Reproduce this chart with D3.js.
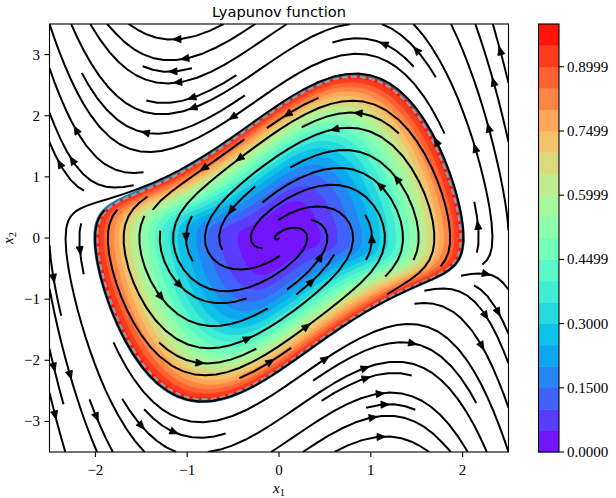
<!DOCTYPE html>
<html>
<head>
<meta charset="utf-8">
<script src="https://cdn.jsdelivr.net/npm/d3@7"></script>
<style>
  body { margin: 0; background: #fff; }
  svg { display: block; }
  text { font-family: "Liberation Serif", "DejaVu Serif", serif; fill: #000; }
</style>
</head>
<body>
<svg width="616" height="498"></svg>
<script>
// ---- chart values ----
var xDomain = [-2.5, 2.5];
var yDomain = [-3.5, 3.5];
var xTicks = [-2, -1, 0, 1, 2];
var yTicks = [-3, -2, -1, 0, 1, 2, 3];
// contour levels (21 edges -> 20 bands)
var levels = [0, 0.05, 0.1, 0.15, 0.2, 0.25, 0.3, 0.35, 0.4, 0.45, 0.5,
              0.55, 0.6, 0.65, 0.7, 0.75, 0.8, 0.85, 0.9, 0.95, 0.9999];
var cbarTickIdx = [0, 3, 6, 9, 12, 15, 18];
var cbarTickLabels = ["0.0000", "0.1500", "0.3000", "0.4499", "0.5999", "0.7499", "0.8999"];
// reversed Van der Pol: x1' = -x2, x2' = x1 - mu (1 - x1^2) x2
var mu = 1.0;

function field(x1, x2) {
  return [-x2, x1 - mu * (1 - x1 * x1) * x2];
}

var svg = d3.select("svg");
var x = d3.scaleLinear().domain(xDomain).range([49.5, 508.5]);
var y = d3.scaleLinear().domain(yDomain).range([452, 24]);

// matplotlib "rainbow"
function rainbow(t) {
  var r = Math.min(1, Math.abs(2 * t - 0.5));
  var g = Math.max(0, Math.sin(Math.PI * t));
  var b = Math.max(0, Math.cos(Math.PI * t / 2));
  return d3.rgb(r * 255, g * 255, b * 255).formatHex();
}
var vmin = levels[0], vmax = levels[levels.length - 1];
var bandColors = d3.range(levels.length - 1).map(function (i) {
  var mid = (levels[i] + levels[i + 1]) / 2;
  return rainbow((mid - vmin) / (vmax - vmin));
});

// ---- limit cycle (boundary of the region of attraction) ----
function cycle() {
  var a = 2, b = 0, h = 0.002;
  function g(p, q) { return [q, -p + mu * (1 - p * p) * q]; }
  function step() {
    var k1 = g(a, b), k2 = g(a + h / 2 * k1[0], b + h / 2 * k1[1]);
    var k3 = g(a + h / 2 * k2[0], b + h / 2 * k2[1]), k4 = g(a + h * k3[0], b + h * k3[1]);
    a += h / 6 * (k1[0] + 2 * k2[0] + 2 * k3[0] + k4[0]);
    b += h / 6 * (k1[1] + 2 * k2[1] + 2 * k3[1] + k4[1]);
  }
  for (var i = 0; i < 25000; i++) step();
  var pts = [];
  for (var j = 0; j < 3340; j++) { step(); if (j % 5 === 0) pts.push([a, b]); }
  return pts;
}
var lc = cycle();

// radius of the boundary along each direction
var NA = 1440, Rtab = new Float64Array(NA + 1);
for (var a = 0; a <= NA; a++) {
  var th = 2 * Math.PI * a / NA, dxr = Math.cos(th), dyr = Math.sin(th), best = 0;
  for (var k = 0; k < lc.length; k++) {
    var p = lc[k], q = lc[(k + 1) % lc.length];
    var ex = q[0] - p[0], ey = q[1] - p[1];
    var det = -dxr * ey + dyr * ex;
    if (det === 0) continue;
    var r = (-p[0] * ey + p[1] * ex) / det;
    var u = (dxr * p[1] - dyr * p[0]) / det;
    if (u >= 0 && u <= 1 && r > best) best = r;
  }
  Rtab[a] = best;
}
function boundaryR(th) {
  if (th < 0) th += 2 * Math.PI;
  var f = th / (2 * Math.PI) * NA, i0 = Math.floor(f), t = f - i0;
  i0 = Math.min(i0, NA - 1);
  return Rtab[i0] * (1 - t) + Rtab[i0 + 1] * t;
}

// ---- Lyapunov function on a grid (squared radius relative to the boundary) ----
var NX = 201, NY = 201;
var values = new Float64Array(NX * NY);
for (var j = 0; j < NY; j++) {
  for (var i = 0; i < NX; i++) {
    var xd = xDomain[0] + i * (xDomain[1] - xDomain[0]) / (NX - 1);
    var yd = yDomain[0] + j * (yDomain[1] - yDomain[0]) / (NY - 1);
    var s = Math.hypot(xd, yd) / boundaryR(Math.atan2(yd, xd));
    values[i + j * NX] = -(s * s);   // negated: contours give V <= level
  }
}

// ---- clip ----
svg.append("clipPath").attr("id", "plotclip")
  .append("rect").attr("x", 49.5).attr("y", 24).attr("width", 459).attr("height", 428);
var plot = svg.append("g").attr("clip-path", "url(#plotclip)");

// ---- filled contours ----
var gx = function (c) { return x(xDomain[0] + (c - 0.5) * (xDomain[1] - xDomain[0]) / (NX - 1)); };
var gy = function (c) { return y(yDomain[0] + (c - 0.5) * (yDomain[1] - yDomain[0]) / (NY - 1)); };
var gridPath = d3.geoPath(d3.geoTransform({
  point: function (px, py) { this.stream.point(gx(px), gy(py)); }
}));
// thresholds -levels[20], -levels[19], ..., -levels[1]  ->  bands 19 ... 0
var negLevels = levels.slice(1).reverse().map(function (v) { return -v; });
var contours = d3.contours().size([NX, NY]).thresholds(negLevels)(values);
var nb = levels.length - 1;
plot.append("g").selectAll("path")
  .data(contours)
  .enter().append("path")
  .attr("d", gridPath)
  .attr("fill", function (d, i) { return bandColors[nb - 1 - i]; })
  .attr("stroke", function (d, i) { return bandColors[nb - 1 - i]; })
  .attr("stroke-width", 0.4);

// ---- region boundary lines ----
var line = d3.line().x(function (d) { return x(d[0]); }).y(function (d) { return y(d[1]); })
  .curve(d3.curveLinearClosed);
plot.append("path").attr("d", line(lc))
  .attr("fill", "none").attr("stroke", "#1f77b4").attr("stroke-width", 2.6);
plot.append("path").attr("d", line(lc.map(function (p) { return [p[0] * 0.985, p[1] * 0.985]; })))
  .attr("fill", "none").attr("stroke", "#999999").attr("stroke-width", 2.4)
  .attr("stroke-dasharray", "6,3");

// ---- streamplot (matplotlib algorithm, density 1) ----
var NM = 30;
var mask = new Uint8Array(NM * NM);
var curCell = null, trajCells = [];
var W = xDomain[1] - xDomain[0], H = yDomain[1] - yDomain[0];
function pyRound(v) {
  var f = Math.floor(v);
  if (Math.abs(v - f - 0.5) < 1e-12) return (f % 2 === 0) ? f : f + 1;
  return Math.round(v);
}
function within(xa, ya) { return xa >= 0 && xa <= 1 && ya >= 0 && ya <= 1; }
function fdir(xa, ya, sign) {
  var v = field(xDomain[0] + xa * W, yDomain[0] + ya * H);
  var ua = v[0] / W, va = v[1] / H;
  var sp = Math.hypot(ua, va);
  if (sp === 0) return null;
  return [sign * ua / sp, sign * va / sp];
}
function updateCell(xa, ya) {
  var xm = pyRound(xa * (NM - 1)), ym = pyRound(ya * (NM - 1));
  if (!curCell || curCell[0] !== xm || curCell[1] !== ym) {
    if (mask[ym * NM + xm] === 0) {
      trajCells.push(ym * NM + xm);
      mask[ym * NM + xm] = 1;
      curCell = [xm, ym];
    } else return false;
  }
  return true;
}
function eulerStep(pts, sign) {
  var p = pts[pts.length - 1], c = fdir(p[0], p[1], sign);
  var dsx = c[0] === 0 ? Infinity : (c[0] < 0 ? p[0] / -c[0] : (1 - p[0]) / c[0]);
  var dsy = c[1] === 0 ? Infinity : (c[1] < 0 ? p[1] / -c[1] : (1 - p[1]) / c[1]);
  var ds = Math.min(dsx, dsy);
  pts.push([p[0] + c[0] * ds, p[1] + c[1] * ds]);
  return ds;
}
function rk12(x0, y0, sign) {
  var maxerror = 0.003, maxds = Math.min(1 / NM, 0.1), ds = maxds, stotal = 0;
  var xi = x0, yi = y0, pts = [], maxlength = 4.0;
  while (true) {
    if (!within(xi, yi)) { if (pts.length) stotal += eulerStep(pts, sign); break; }
    pts.push([xi, yi]);
    var k1 = fdir(xi, yi, sign);
    if (!k1) break;
    var xt = xi + ds * k1[0], yt = yi + ds * k1[1];
    if (!within(xt, yt)) { stotal += eulerStep(pts, sign); break; }
    var k2 = fdir(xt, yt, sign);
    if (!k2) break;
    var dx1 = ds * k1[0], dy1 = ds * k1[1];
    var dx2 = ds * 0.5 * (k1[0] + k2[0]), dy2 = ds * 0.5 * (k1[1] + k2[1]);
    var err = Math.hypot(dx2 - dx1, dy2 - dy1);
    if (err < maxerror) {
      xi += dx2; yi += dy2;
      if (!within(xi, yi)) break;
      if (!updateCell(xi, yi)) break;
      if (stotal + ds > maxlength) break;
      stotal += ds;
    }
    ds = err === 0 ? maxds : Math.min(maxds, 0.85 * ds * Math.sqrt(maxerror / err));
  }
  return [stotal, pts];
}
function integrate(x0, y0) {
  trajCells = [];
  if (!updateCell(x0, y0)) return null;
  var b = rk12(x0, y0, -1);
  var stotal = b[0], pts = b[1].slice().reverse();
  curCell = [pyRound(x0 * (NM - 1)), pyRound(y0 * (NM - 1))];
  var f = rk12(x0, y0, 1);
  stotal += f[0];
  pts = pts.concat(f[1].slice(1));
  if (stotal > 0.1) return pts;
  trajCells.forEach(function (c) { mask[c] = 0; });
  return null;
}
function startPoints(nx, ny) {
  var pts = [], xfirst = 0, yfirst = 1, xlast = nx - 1, ylast = ny - 1, px = 0, py = 0, dir = "right";
  for (var k = 0; k < nx * ny; k++) {
    pts.push([px, py]);
    if (dir === "right") { px++; if (px >= xlast) { xlast--; dir = "up"; } }
    else if (dir === "up") { py++; if (py >= ylast) { ylast--; dir = "left"; } }
    else if (dir === "left") { px--; if (px <= xfirst) { xfirst++; dir = "down"; } }
    else { py--; if (py <= yfirst) { yfirst++; dir = "right"; } }
  }
  return pts;
}
var streams = [];
startPoints(NM, NM).forEach(function (s) {
  if (mask[s[1] * NM + s[0]] === 0) {
    var t = integrate(s[0] / (NM - 1), s[1] / (NM - 1));
    if (t) streams.push(t.map(function (p) { return [xDomain[0] + p[0] * W, yDomain[0] + p[1] * H]; }));
  }
});

var sline = d3.line().x(function (d) { return x(d[0]); }).y(function (d) { return y(d[1]); });
var sg = plot.append("g");
sg.selectAll("path.stream").data(streams).enter().append("path")
  .attr("class", "stream")
  .attr("d", sline)
  .attr("fill", "none").attr("stroke", "#000").attr("stroke-width", 2)
  .attr("stroke-linejoin", "round");

// arrows halfway along each streamline
streams.forEach(function (t) {
  if (t.length < 2) return;
  var s = [], acc = 0;
  for (var k = 1; k < t.length; k++) { acc += Math.hypot(t[k][0] - t[k - 1][0], t[k][1] - t[k - 1][1]); s.push(acc); }
  var n = d3.bisectLeft(s, acc / 2);
  var n2 = Math.min(n + 1, t.length - 1);
  var tail = [x(t[n][0]), y(t[n][1])];
  var head = [(x(t[n][0]) + x(t[n2][0])) / 2, (y(t[n][1]) + y(t[n2][1])) / 2];
  var dx = head[0] - tail[0], dy = head[1] - tail[1], L = Math.hypot(dx, dy);
  if (L === 0) return;
  dx /= L; dy /= L;
  var tip = [head[0] + dx * 2, head[1] + dy * 2];
  var len = 8.5, hw = 3.6;
  var bx = tip[0] - dx * len, by = tip[1] - dy * len;
  sg.append("path")
    .attr("d", "M" + tip[0] + "," + tip[1] +
      "L" + (bx - dy * hw) + "," + (by + dx * hw) +
      "L" + (bx + dy * hw) + "," + (by - dx * hw) + "Z")
    .attr("fill", "#000").attr("stroke", "#000").attr("stroke-width", 0.8)
    .attr("stroke-linejoin", "miter");
});

// ---- frame and axes ----
svg.append("rect").attr("x", 49.5).attr("y", 24).attr("width", 459).attr("height", 428)
  .attr("fill", "none").attr("stroke", "#000").attr("stroke-width", 1.1);

var fmt = function (v) { return v < 0 ? "\u2212" + Math.abs(v) : String(v); };
var xa = svg.append("g");
xTicks.forEach(function (v) {
  xa.append("line").attr("x1", x(v)).attr("x2", x(v)).attr("y1", 452).attr("y2", 457)
    .attr("stroke", "#000").attr("stroke-width", 1.1);
  xa.append("text").attr("x", x(v)).attr("y", 475).attr("text-anchor", "middle")
    .attr("font-size", 15).text(fmt(v));
});
var ya = svg.append("g");
yTicks.forEach(function (v) {
  ya.append("line").attr("x1", 44.5).attr("x2", 49.5).attr("y1", y(v)).attr("y2", y(v))
    .attr("stroke", "#000").attr("stroke-width", 1.1);
  ya.append("text").attr("x", 40).attr("y", y(v) + 5).attr("text-anchor", "end")
    .attr("font-size", 15).text(fmt(v));
});

// axis labels
var xl = svg.append("text").attr("x", 279).attr("y", 493).attr("text-anchor", "middle")
  .attr("font-size", 15);
xl.append("tspan").attr("font-style", "italic").text("x");
xl.append("tspan").attr("font-size", 10.5).attr("dy", 3).text("1");
var yl = svg.append("text").attr("transform", "translate(13,238) rotate(-90)")
  .attr("text-anchor", "middle").attr("font-size", 15);
yl.append("tspan").attr("font-style", "italic").text("x");
yl.append("tspan").attr("font-size", 10.5).attr("dy", 3).text("2");

// title
svg.append("text").attr("x", 279).attr("y", 17).attr("text-anchor", "middle")
  .style("font-family", "'DejaVu Sans', sans-serif").attr("font-size", 14.6)
  .text("Lyapunov function");

// ---- colorbar ----
var cy = d3.scaleLinear().domain([0, levels.length - 1]).range([452, 24]);
var cb = svg.append("g");
bandColors.forEach(function (c, i) {
  cb.append("rect").attr("x", 538.5).attr("width", 20.5)
    .attr("y", cy(i + 1)).attr("height", cy(i) - cy(i + 1) + 0.4)
    .attr("fill", c);
});
cb.append("rect").attr("x", 538.5).attr("y", 24).attr("width", 20.5).attr("height", 428)
  .attr("fill", "none").attr("stroke", "#000").attr("stroke-width", 1.1);
cbarTickIdx.forEach(function (k, i) {
  cb.append("line").attr("x1", 559).attr("x2", 564).attr("y1", cy(k)).attr("y2", cy(k))
    .attr("stroke", "#000").attr("stroke-width", 1.1);
  cb.append("text").attr("x", 567).attr("y", cy(k) + 5).attr("font-size", 15)
    .text(cbarTickLabels[i]);
});
</script>
</body>
</html>
